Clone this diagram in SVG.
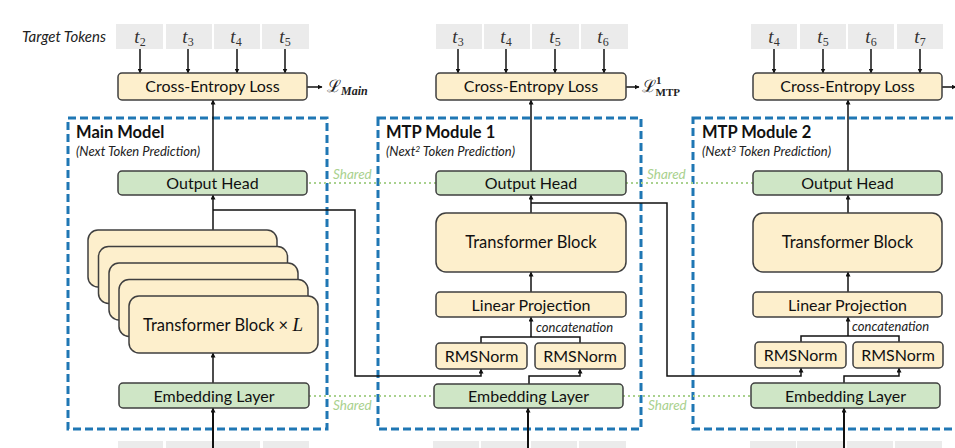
<svg xmlns="http://www.w3.org/2000/svg" width="955" height="448" viewBox="0 0 955 448">
<defs>
<marker id="ah" viewBox="0 0 10 10" refX="9" refY="5" markerWidth="5" markerHeight="5" orient="auto" markerUnits="userSpaceOnUse">
<path d="M0,0 L10,5 L0,10 z" fill="#111"/>
</marker>
<style>
.tok{fill:#ebebeb;}
.tt{font-family:"Liberation Serif",serif;font-style:italic;font-size:19px;fill:#333;text-anchor:middle;}
.sub{font-style:normal;font-size:12px;}
.yel{fill:#fdefcc;stroke:#3f3f3f;stroke-width:1.5;}
.grn{fill:#cfe6c6;stroke:#3f3f3f;stroke-width:1.5;}
.lbl{font-family:Lato,"Liberation Sans",sans-serif;font-size:16px;fill:#111;text-anchor:middle;}
.big{font-size:16.5px;}
.dash{fill:none;stroke:#1f77b4;stroke-width:3;stroke-dasharray:8 4;}
.title{font-family:Lato,"Liberation Sans",sans-serif;font-weight:bold;font-size:16.5px;fill:#111;}
.subt{font-family:Lato,"Liberation Sans",sans-serif;font-style:italic;font-size:13px;fill:#222;}
.shared{font-family:Lato,"Liberation Sans",sans-serif;font-style:italic;font-size:13.5px;fill:#a9d18e;}
.dot{stroke:#a9d18e;stroke-width:2;stroke-dasharray:2 3;fill:none;}
.ln{fill:none;stroke:#111;stroke-width:1.5;}
.thick{fill:none;stroke:#111;stroke-width:2;}
.concat{font-family:Lato,"Liberation Sans",sans-serif;font-style:italic;font-size:13px;fill:#222;}
.math{font-family:"DejaVu Serif","Liberation Serif",serif;font-size:17px;fill:#222;}
</style>
</defs>
<rect width="955" height="448" fill="#ffffff"/>

<!-- Target tokens -->
<g id="target-label"><text x="22" y="42" font-family="Lato,'Liberation Sans',sans-serif" font-style="italic" font-size="15" fill="#222">Target Tokens</text></g>
<g id="tokens-main">
<rect class="tok" x="116" y="24" width="47" height="25"/><rect class="tok" x="166" y="24" width="46" height="25"/><rect class="tok" x="214" y="24" width="46" height="25"/><rect class="tok" x="262" y="24" width="47" height="25"/>
<text class="tt" x="140" y="43">t<tspan class="sub" dy="3">2</tspan></text>
<text class="tt" x="188" y="43">t<tspan class="sub" dy="3">3</tspan></text>
<text class="tt" x="236" y="43">t<tspan class="sub" dy="3">4</tspan></text>
<text class="tt" x="285" y="43">t<tspan class="sub" dy="3">5</tspan></text>
</g>
<g id="tokens-mtp1">
<rect class="tok" x="436" y="24" width="46" height="25"/><rect class="tok" x="484" y="24" width="46" height="25"/><rect class="tok" x="532" y="24" width="47" height="25"/><rect class="tok" x="581" y="24" width="47" height="25"/>
<text class="tt" x="458" y="43">t<tspan class="sub" dy="3">3</tspan></text>
<text class="tt" x="506" y="43">t<tspan class="sub" dy="3">4</tspan></text>
<text class="tt" x="555" y="43">t<tspan class="sub" dy="3">5</tspan></text>
<text class="tt" x="603" y="43">t<tspan class="sub" dy="3">6</tspan></text>
</g>
<g id="tokens-mtp2">
<rect class="tok" x="751" y="24" width="46" height="25"/><rect class="tok" x="800" y="24" width="46" height="25"/><rect class="tok" x="848" y="24" width="46" height="25"/><rect class="tok" x="897" y="24" width="46" height="25"/>
<text class="tt" x="774" y="43">t<tspan class="sub" dy="3">4</tspan></text>
<text class="tt" x="823" y="43">t<tspan class="sub" dy="3">5</tspan></text>
<text class="tt" x="871" y="43">t<tspan class="sub" dy="3">6</tspan></text>
<text class="tt" x="920" y="43">t<tspan class="sub" dy="3">7</tspan></text>
</g>

<!-- input token strips at bottom -->
<g id="inputs">
<rect class="tok" x="118" y="441" width="45" height="10"/><rect class="tok" x="166" y="441" width="46" height="10"/><rect class="tok" x="214" y="441" width="46" height="10"/><rect class="tok" x="263" y="441" width="46" height="10"/>
<rect class="tok" x="433" y="441" width="46" height="10"/><rect class="tok" x="481" y="441" width="48" height="10"/><rect class="tok" x="531" y="441" width="46" height="10"/><rect class="tok" x="579" y="441" width="47" height="10"/>
<rect class="tok" x="750" y="441" width="46" height="10"/><rect class="tok" x="797" y="441" width="48" height="10"/><rect class="tok" x="847" y="441" width="46" height="10"/><rect class="tok" x="895" y="441" width="47" height="10"/>
</g>

<!-- module frames -->
<g id="main-model">
<rect class="dash" x="68" y="118" width="259" height="311"/>
<text class="title" x="76" y="138">Main Model</text>
<text class="subt" x="76" y="156">(Next Token Prediction)</text>
</g>
<g id="mtp-module-1">
<rect class="dash" x="378" y="118" width="263" height="311"/>
<text class="title" x="386" y="138">MTP Module 1</text>
<text class="subt" x="386" y="156">(Next<tspan font-size="8.5" dy="-4">2</tspan><tspan dy="4"> Token Prediction)</tspan></text>
</g>
<g id="mtp-module-2">
<rect class="dash" x="693" y="118" width="280" height="311"/>
<text class="title" x="702" y="138">MTP Module 2</text>
<text class="subt" x="702" y="156">(Next<tspan font-size="8.5" dy="-4">3</tspan><tspan dy="4"> Token Prediction)</tspan></text>
</g>

<!-- shared links -->
<g id="shared-links">
<line class="dot" x1="309" y1="183" x2="436" y2="183"/>
<line class="dot" x1="626" y1="183" x2="753" y2="183"/>
<line class="dot" x1="309" y1="396" x2="434" y2="396"/>
<line class="dot" x1="623" y1="396" x2="751" y2="396"/>
<text class="shared" x="333" y="179">Shared</text>
<text class="shared" x="647" y="179">Shared</text>
<text class="shared" x="333" y="410">Shared</text>
<text class="shared" x="648" y="410">Shared</text>
</g>

<!-- connectors -->
<g id="connectors">
<line class="ln" x1="140" y1="49" x2="140" y2="73" marker-end="url(#ah)"/>
<line class="ln" x1="188" y1="49" x2="188" y2="73" marker-end="url(#ah)"/>
<line class="ln" x1="237" y1="49" x2="237" y2="73" marker-end="url(#ah)"/>
<line class="ln" x1="285" y1="49" x2="285" y2="73" marker-end="url(#ah)"/>
<line class="ln" x1="458" y1="49" x2="458" y2="73" marker-end="url(#ah)"/>
<line class="ln" x1="506" y1="49" x2="506" y2="73" marker-end="url(#ah)"/>
<line class="ln" x1="555" y1="49" x2="555" y2="73" marker-end="url(#ah)"/>
<line class="ln" x1="604" y1="49" x2="604" y2="73" marker-end="url(#ah)"/>
<line class="ln" x1="774" y1="49" x2="774" y2="73" marker-end="url(#ah)"/>
<line class="ln" x1="823" y1="49" x2="823" y2="73" marker-end="url(#ah)"/>
<line class="ln" x1="871" y1="49" x2="871" y2="73" marker-end="url(#ah)"/>
<line class="ln" x1="920" y1="49" x2="920" y2="73" marker-end="url(#ah)"/>
<!-- loss outputs -->
<line class="ln" x1="307" y1="87" x2="322" y2="87" marker-end="url(#ah)"/>
<line class="ln" x1="626" y1="87" x2="639" y2="87" marker-end="url(#ah)"/>
<line class="ln" x1="942" y1="87" x2="956" y2="87" marker-end="url(#ah)"/>
<!-- heads to loss -->
<line class="ln" x1="213" y1="171" x2="213" y2="100" marker-end="url(#ah)"/>
<line class="ln" x1="531" y1="171" x2="531" y2="100" marker-end="url(#ah)"/>
<line class="ln" x1="848" y1="171" x2="848" y2="100" marker-end="url(#ah)"/>
<!-- main -->
<line class="ln" x1="213" y1="230" x2="213" y2="195" marker-end="url(#ah)"/>
<line class="ln" x1="213" y1="383" x2="213" y2="353" marker-end="url(#ah)"/>
<line class="thick" x1="213" y1="448" x2="213" y2="408" marker-end="url(#ah)"/>
<polyline class="ln" points="213,210 355,210 355,376 481,376 481,369" marker-end="url(#ah)"/>
<!-- mtp1 -->
<line class="ln" x1="531" y1="213" x2="531" y2="195" marker-end="url(#ah)"/>
<line class="ln" x1="531" y1="292" x2="531" y2="272" marker-end="url(#ah)"/>
<line class="ln" x1="531" y1="337" x2="531" y2="317" marker-end="url(#ah)"/>
<polyline class="ln" points="481,343 481,337 580,337 580,343"/>
<polyline class="ln" points="529,384 529,376 580,376 580,369" marker-end="url(#ah)"/>
<line class="thick" x1="528" y1="448" x2="528" y2="408" marker-end="url(#ah)"/>
<polyline class="ln" points="531,203 667,203 667,376 801,376 801,368" marker-end="url(#ah)"/>
<!-- mtp2 -->
<line class="ln" x1="848" y1="213" x2="848" y2="195" marker-end="url(#ah)"/>
<line class="ln" x1="848" y1="292" x2="848" y2="272" marker-end="url(#ah)"/>
<line class="ln" x1="848" y1="336" x2="848" y2="317" marker-end="url(#ah)"/>
<polyline class="ln" points="801,342 801,336 899,336 899,342"/>
<polyline class="ln" points="844,383 844,376 899,376 899,368" marker-end="url(#ah)"/>
<line class="thick" x1="844" y1="448" x2="844" y2="408" marker-end="url(#ah)"/>
<text class="concat" x="536" y="332">concatenation</text>
<text class="concat" x="852" y="331">concatenation</text>
</g>

<!-- loss nodes -->
<g id="loss-main">
<rect class="yel" x="118" y="73" width="189" height="27" rx="4"/>
<text class="lbl" x="212.5" y="92">Cross-Entropy Loss</text>
<text class="math" x="327" y="92">ℒ<tspan font-family="'Liberation Serif',serif" font-style="italic" font-weight="bold" font-size="12" dy="3">Main</tspan></text>
</g>
<g id="loss-mtp1">
<rect class="yel" x="436" y="73" width="190" height="27" rx="4"/>
<text class="lbl" x="531" y="92">Cross-Entropy Loss</text>
<text class="math" x="642" y="92">ℒ<tspan font-family="'Liberation Serif',serif" font-weight="bold" font-size="11" dy="-8">1</tspan><tspan font-family="'Liberation Serif',serif" font-weight="bold" font-size="11" dx="-6" dy="12">MTP</tspan></text>
</g>
<g id="loss-mtp2">
<rect class="yel" x="753" y="73" width="189" height="27" rx="4"/>
<text class="lbl" x="847.5" y="92">Cross-Entropy Loss</text>
</g>

<!-- main model nodes -->
<g id="main-output-head">
<rect class="grn" x="118" y="171" width="189" height="24" rx="4"/>
<text class="lbl" x="212.5" y="188.5">Output Head</text>
</g>
<g id="main-transformer-stack">
<rect class="yel" x="88" y="230" width="189" height="57" rx="10"/>
<rect class="yel" x="98.5" y="246.5" width="189" height="57" rx="10"/>
<rect class="yel" x="109" y="263" width="189" height="57" rx="10"/>
<rect class="yel" x="119" y="279.5" width="189" height="57" rx="10"/>
<rect class="yel" x="129" y="296" width="189" height="57" rx="10"/>
<text class="lbl big" x="223" y="331">Transformer Block × <tspan font-family="'Liberation Serif',serif" font-style="italic" font-size="19">L</tspan></text>
</g>
<g id="main-embedding">
<rect class="grn" x="119" y="383" width="190" height="25" rx="4"/>
<text class="lbl" x="214" y="401.5">Embedding Layer</text>
</g>

<!-- mtp1 nodes -->
<g id="mtp1-output-head">
<rect class="grn" x="436" y="171" width="190" height="24" rx="4"/>
<text class="lbl" x="531" y="188.5">Output Head</text>
</g>
<g id="mtp1-transformer">
<rect class="yel" x="436" y="213" width="190" height="59" rx="10"/>
<text class="lbl big" x="531" y="248">Transformer Block</text>
</g>
<g id="mtp1-linear">
<rect class="yel" x="436" y="292" width="190" height="25" rx="4"/>
<text class="lbl" x="531" y="310.5">Linear Projection</text>
</g>
<g id="mtp1-rms-left">
<rect class="yel" x="436" y="343" width="91" height="26" rx="4"/>
<text class="lbl" x="481.5" y="361.5">RMSNorm</text>
</g>
<g id="mtp1-rms-right">
<rect class="yel" x="535" y="343" width="90" height="26" rx="4"/>
<text class="lbl" x="580" y="361.5">RMSNorm</text>
</g>
<g id="mtp1-embedding">
<rect class="grn" x="434" y="384" width="189" height="24" rx="4"/>
<text class="lbl" x="528.5" y="401.5">Embedding Layer</text>
</g>

<!-- mtp2 nodes -->
<g id="mtp2-output-head">
<rect class="grn" x="753" y="171" width="189" height="24" rx="4"/>
<text class="lbl" x="847.5" y="188.5">Output Head</text>
</g>
<g id="mtp2-transformer">
<rect class="yel" x="753" y="213" width="189" height="59" rx="10"/>
<text class="lbl big" x="847.5" y="248">Transformer Block</text>
</g>
<g id="mtp2-linear">
<rect class="yel" x="753" y="292" width="189" height="25" rx="4"/>
<text class="lbl" x="847.5" y="310.5">Linear Projection</text>
</g>
<g id="mtp2-rms-left">
<rect class="yel" x="755" y="342" width="91" height="26" rx="4"/>
<text class="lbl" x="800.5" y="360.5">RMSNorm</text>
</g>
<g id="mtp2-rms-right">
<rect class="yel" x="853" y="342" width="90" height="26" rx="4"/>
<text class="lbl" x="898" y="360.5">RMSNorm</text>
</g>
<g id="mtp2-embedding">
<rect class="grn" x="751" y="383" width="189" height="25" rx="4"/>
<text class="lbl" x="845.5" y="401.5">Embedding Layer</text>
</g>
</svg>
